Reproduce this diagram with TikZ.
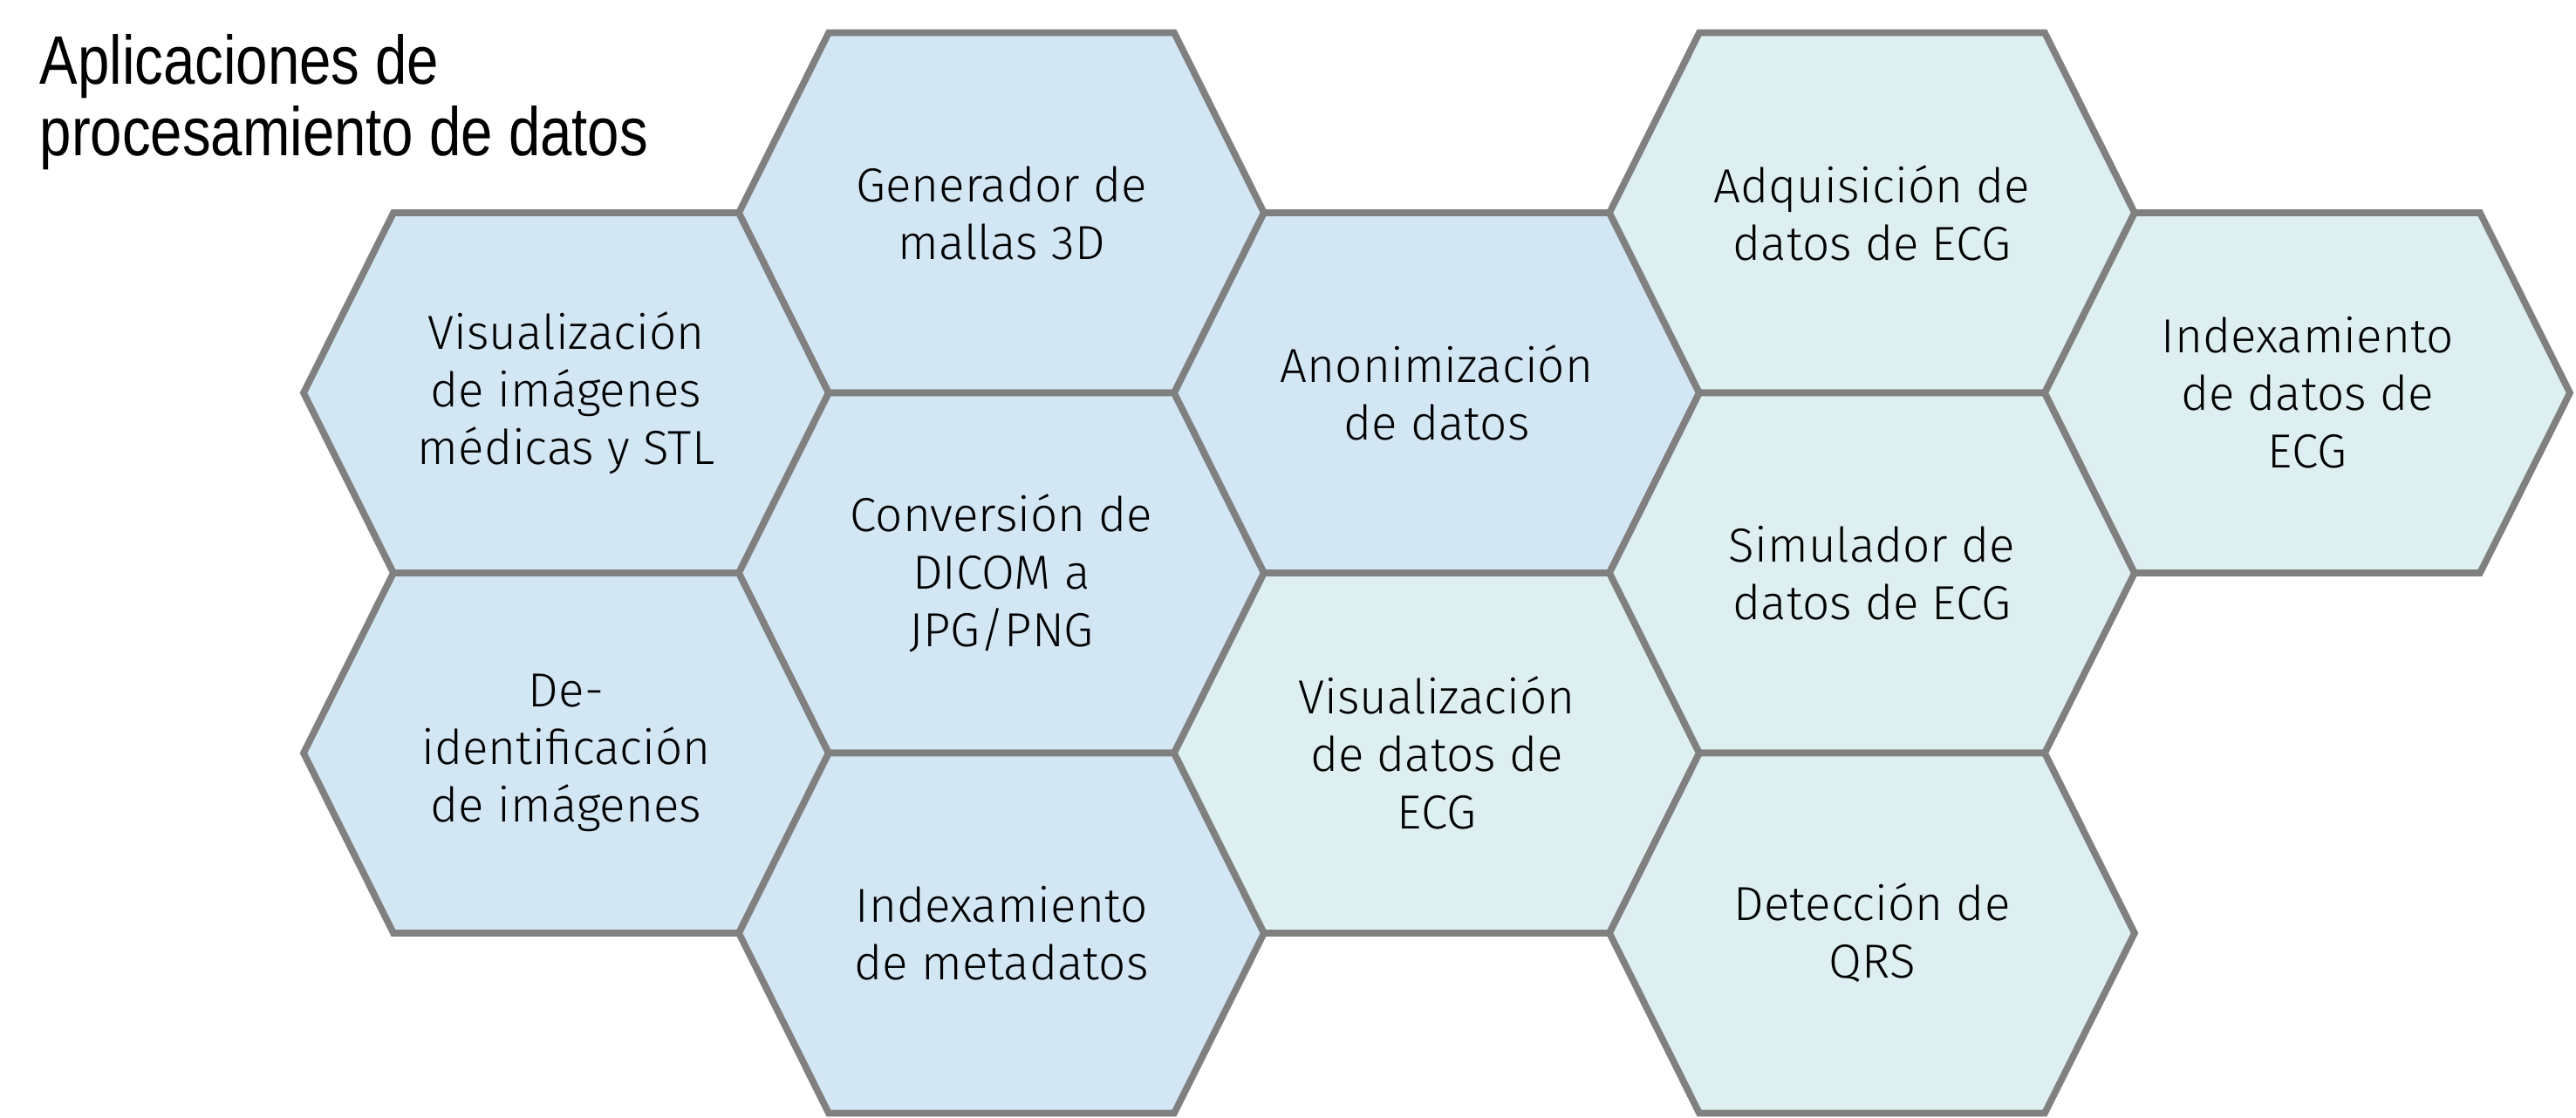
\documentclass[tikz,border=0pt]{standalone}
\usepackage{fontspec}
\setmainfont{Fira Sans}[UprightFont={* Light}]
\newfontfamily\titlefont{Liberation Sans}[FakeStretch=0.83]

\definecolor{hexblue}{HTML}{D2E6F4}
\definecolor{hexcyan}{HTML}{DEEFF2}
\definecolor{hexline}{HTML}{808080}

\tikzset{
  hexedge/.style={draw=hexline, line width=2.2pt, line join=miter},
  hexlabel/.style={align=center, inner sep=0pt,
    font=\fontsize{15.6}{18.8}\selectfont},
  titlelabel/.style={align=left, inner sep=0pt, anchor=base west,
    font=\titlefont\fontsize{22.4}{23.6}\selectfont}
}

% one honeycomb cell: name, column, row centre y, fill colour, label
% columns sit 4.99 apart, starting at x = 6.49
\newcommand\hexcell[5]{%
  \begin{scope}[shift={({6.49+4.99*(#2)},#3)}]
    \draw[hexedge, fill=#4] (-3.01,0) -- (-1.98,2.065) -- (1.98,2.065)
      -- (3.01,0) -- (1.98,-2.065) -- (-1.98,-2.065) -- cycle;
    \node[hexlabel] (#1) at (0,0) {#5};
  \end{scope}}

\begin{document}
\begin{tikzpicture}
  \fill[white] (0,0) rectangle (29.53,12.81);
  \useasboundingbox (0,0) rectangle (29.53,12.81);

  % baseline of the second line
  \node[titlelabel] (title) at (0.45,11.02)
    {Aplicaciones de\\procesamiento de datos};

  % imaging applications
  \hexcell{visimg}{0}{8.305}{hexblue}{Visualización\\de imágenes\\médicas y STL}
  \hexcell{deid}{0}{4.175}{hexblue}{De-\\identificación\\de imágenes}
  \hexcell{mesh}{1}{10.37}{hexblue}{Generador de\\mallas 3D}
  \hexcell{dicom}{1}{6.24}{hexblue}{Conversión de\\DICOM a\\JPG/PNG}
  \hexcell{meta}{1}{2.11}{hexblue}{Indexamiento\\de metadatos}
  \hexcell{anon}{2}{8.305}{hexblue}{Anonimización\\de datos}

  % ECG applications
  \hexcell{visecg}{2}{4.175}{hexcyan}{Visualización\\de datos de\\ECG}
  \hexcell{acq}{3}{10.37}{hexcyan}{Adquisición de\\datos de ECG}
  \hexcell{sim}{3}{6.24}{hexcyan}{Simulador de\\datos de ECG}
  \hexcell{qrs}{3}{2.11}{hexcyan}{Detección de\\QRS}
  \hexcell{idxecg}{4}{8.305}{hexcyan}{Indexamiento\\de datos de\\ECG}
\end{tikzpicture}
\end{document}
